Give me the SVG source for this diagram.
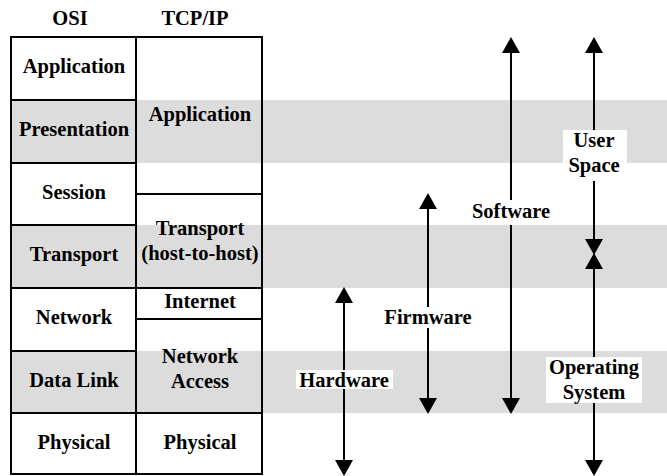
<svg xmlns="http://www.w3.org/2000/svg" width="667" height="476" viewBox="0 0 667 476" font-family="Liberation Serif, DejaVu Serif, serif">
<style>
text{font-family:"Liberation Serif","DejaVu Serif",serif;font-weight:bold;font-size:20.5px;fill:#000;text-anchor:middle}
.band{fill:#dcdcdc}
.cell{fill:none;stroke:#000;stroke-width:2}
.lbl{fill:#fff}
.arr{stroke:#000;stroke-width:2;fill:none}
</style>
<defs>
<marker id="ah" viewBox="0 0 16 18" refX="12" refY="9" markerWidth="16" markerHeight="18" markerUnits="userSpaceOnUse" orient="auto-start-reverse">
<path d="M0,0 L16,9 L0,18 Z" fill="#000"/>
</marker>
</defs>
<rect width="667" height="476" fill="#fff"/>
<g id="bands">
<rect class="band" x="11" y="100" width="656" height="63"/>
<rect class="band" x="11" y="225" width="656" height="63"/>
<rect class="band" x="11" y="351" width="656" height="62"/>
</g>
<g id="headers">
<text x="70" y="25">OSI</text>
<text x="195" y="25">TCP/IP</text>
</g>
<g id="osi-application"><rect class="cell" x="11" y="37" width="125" height="63"/><text x="74" y="73">Application</text></g>
<g id="osi-presentation"><rect class="cell" x="11" y="100" width="125" height="63"/><text x="74" y="136">Presentation</text></g>
<g id="osi-session"><rect class="cell" x="11" y="163" width="125" height="62"/><text x="74" y="199">Session</text></g>
<g id="osi-transport"><rect class="cell" x="11" y="225" width="125" height="63"/><text x="74" y="261">Transport</text></g>
<g id="osi-network"><rect class="cell" x="11" y="288" width="125" height="63"/><text x="74" y="324">Network</text></g>
<g id="osi-datalink"><rect class="cell" x="11" y="351" width="125" height="62"/><text x="74" y="387">Data Link</text></g>
<g id="osi-physical"><rect class="cell" x="11" y="413" width="125" height="61"/><text x="74" y="449">Physical</text></g>
<g id="tcp-application"><rect class="cell" x="136" y="37" width="126" height="157"/><text x="200" y="121">Application</text></g>
<g id="tcp-transport"><rect class="cell" x="136" y="194" width="126" height="94"/><text x="200" y="235">Transport</text><text x="200" y="260">(host-to-host)</text></g>
<g id="tcp-internet"><rect class="cell" x="136" y="288" width="126" height="31"/><text x="200" y="308">Internet</text></g>
<g id="tcp-netaccess"><rect class="cell" x="136" y="319" width="126" height="94"/><text x="200" y="363">Network</text><text x="200" y="388">Access</text></g>
<g id="tcp-physical"><rect class="cell" x="136" y="413" width="126" height="61"/><text x="200" y="449">Physical</text></g>
<g id="connectors">
<line class="arr" x1="344" y1="291" x2="344" y2="472" marker-start="url(#ah)" marker-end="url(#ah)"/>
<line class="arr" x1="428" y1="197" x2="428" y2="410" marker-start="url(#ah)" marker-end="url(#ah)"/>
<line class="arr" x1="511" y1="41" x2="511" y2="410" marker-start="url(#ah)" marker-end="url(#ah)"/>
<line class="arr" x1="594" y1="41" x2="594" y2="251" marker-start="url(#ah)" marker-end="url(#ah)"/>
<line class="arr" x1="594" y1="257" x2="594" y2="472" marker-start="url(#ah)" marker-end="url(#ah)"/>
</g>
<g id="hardware"><rect class="lbl" x="296" y="370" width="97" height="19"/><text x="344" y="387">Hardware</text></g>
<g id="firmware"><rect class="lbl" x="383" y="307" width="90" height="21"/><text x="428" y="324">Firmware</text></g>
<g id="software"><rect class="lbl" x="470" y="200" width="82" height="25"/><text x="511" y="218">Software</text></g>
<g id="userspace"><rect class="lbl" x="563" y="130" width="64" height="51"/><text x="594" y="147">User</text><text x="594" y="172">Space</text></g>
<g id="os"><rect class="lbl" x="546" y="357" width="96" height="46"/><text x="594" y="374">Operating</text><text x="594" y="399">System</text></g>
</svg>
